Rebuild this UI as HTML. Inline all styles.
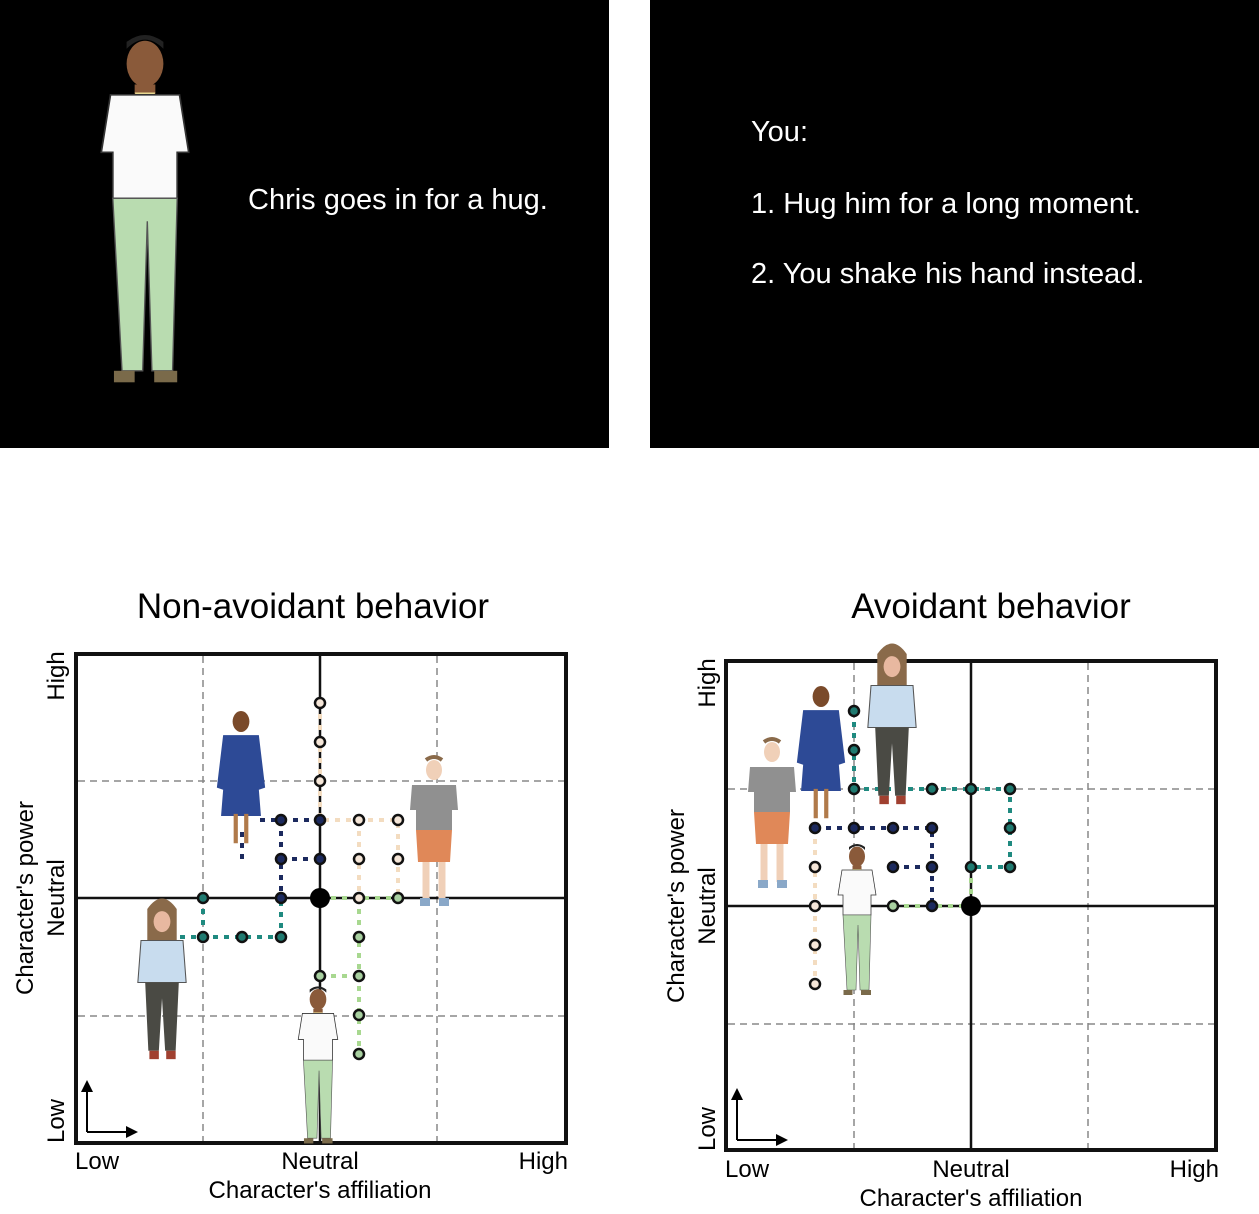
<!DOCTYPE html>
<html><head><meta charset="utf-8"><style>
body{margin:0;width:1259px;height:1209px;background:#fff;overflow:hidden;font-family:"Liberation Sans",sans-serif}
</style></head><body>
<svg width="1259" height="1209" viewBox="0 0 1259 1209" xmlns="http://www.w3.org/2000/svg" font-family="Liberation Sans, sans-serif">
<defs>
<g id="man">
 <ellipse cx="0" cy="-155" rx="16" ry="20" fill="#8a5a3a"/>
 <path d="M-16,-168 q16,-16 32,0 v-6 q-16,-12 -32,0z" fill="#222"/>
 <rect x="-9" y="-137" width="18" height="10" fill="#8a5a3a"/>
 <path d="M-9,-130 h18 l-4,8 h-10z" fill="#e8d890"/>
 <path d="M-30,-128 h60 l8,50 h-10 v40 h-56 v-40 h-10z" fill="#fafafa" stroke="#333" stroke-width="1.5"/>
 <path d="M-28,-38 h56 l-4,150 h-18 l-4,-130 l-4,130 h-18z" fill="#b9dcb0" stroke="#555" stroke-width="1.2"/>
 <rect x="-27" y="112" width="18" height="10" fill="#7a6a4a"/><rect x="8" y="112" width="20" height="10" fill="#7a6a4a"/>
</g>
<g id="woman1">
 <ellipse cx="0" cy="-70" rx="8" ry="10" fill="#7a4a2a"/>
 <path d="M-17,-57 h34 l6,50 l-6,2 l2,25 h-38 l2,-25 l-6,-2z" fill="#2d4a96"/>
 <path d="M-5,18 v28 M5,18 v28" stroke="#b07a4a" stroke-width="4"/>
</g>
<g id="woman2">
 <path d="M-14,-80 q14,-20 28,0 v30 h-28z" fill="#8a6a4a"/>
 <ellipse cx="0" cy="-68" rx="8" ry="10" fill="#e8b8a0"/>
 <path d="M-20,-50 h40 l3,40 h-46z" fill="#c8dcee" stroke="#555" stroke-width="1"/>
 <path d="M-16,-10 h32 l-3,65 h-10 l-3,-50 l-3,50 h-10z" fill="#4a4a44"/>
 <rect x="-12" y="55" width="9" height="8" fill="#a04030"/><rect x="4" y="55" width="9" height="8" fill="#a04030"/>
</g>
<g id="boy">
 <ellipse cx="0" cy="-70" rx="8" ry="10" fill="#f0d0b8"/>
 <path d="M-8,-80 q8,-6 16,0" stroke="#8a6a4a" stroke-width="4" fill="none"/>
 <path d="M-22,-55 h44 l2,25 h-6 v20 h-36 v-20 h-6z" fill="#909090"/>
 <path d="M-18,-10 h36 l-2,32 h-32z" fill="#e08858"/>
 <path d="M-8,22 v38 M8,22 v38" stroke="#f0d0b8" stroke-width="7"/>
 <rect x="-14" y="58" width="10" height="8" fill="#8aa8c8"/><rect x="5" y="58" width="10" height="8" fill="#8aa8c8"/>
</g>
</defs>

<rect x="0" y="0" width="609" height="448" fill="#000"/>
<rect x="650" y="0" width="609" height="448" fill="#000"/>
<use href="#man" transform="translate(145,242) scale(1.15)"/>
<text x="248" y="209" fill="#fff" font-size="29">Chris goes in for a hug.</text>
<text x="751" y="141" fill="#fff" font-size="29">You:</text>
<text x="751" y="213" fill="#fff" font-size="29">1. Hug him for a long moment.</text>
<text x="751" y="283" fill="#fff" font-size="29">2. You shake his hand instead.</text>

<text x="313" y="618" font-size="35" text-anchor="middle">Non-avoidant behavior</text>
<text x="991" y="618" font-size="35" text-anchor="middle">Avoidant behavior</text>

<!-- LEFT PLOT -->
<g>
<rect x="76" y="654" width="490" height="489" fill="#fff" stroke="#111" stroke-width="4"/>
<g stroke="#888" stroke-width="1.5" stroke-dasharray="7,5" fill="none">
<line x1="203" y1="656" x2="203" y2="1141"/><line x1="437" y1="656" x2="437" y2="1141"/>
<line x1="78" y1="781" x2="564" y2="781"/><line x1="78" y1="1016" x2="564" y2="1016"/>
</g>
<line x1="320" y1="656" x2="320" y2="1141" stroke="#111" stroke-width="2.5"/>
<line x1="78" y1="898" x2="564" y2="898" stroke="#111" stroke-width="2.5"/>
<g fill="none" stroke-width="4" stroke-dasharray="5,6">
<path d="M320,703 V820 H398 V898 M359,820 V898" stroke="#f3dcc0"/>
<path d="M260,820 H320 M281,820 V898 M281,859 H320 M242,859 V830" stroke="#1c2a5e"/>
<path d="M180,937 H281 V898 M203,898 V937" stroke="#1f8a80"/>
<path d="M320,898 H398 M359,898 V1054 M320,976 H359" stroke="#a8d890"/>
</g>
<g stroke="#111" stroke-width="2.5">
<g fill="#f5e6d8"><circle cx="320" cy="703" r="5"/><circle cx="320" cy="742" r="5"/><circle cx="320" cy="781" r="5"/><circle cx="359" cy="820" r="5"/><circle cx="398" cy="820" r="5"/><circle cx="359" cy="859" r="5"/><circle cx="398" cy="859" r="5"/><circle cx="359" cy="898" r="5"/></g>
<g fill="#1c2a5e"><circle cx="281" cy="820" r="5"/><circle cx="320" cy="820" r="5"/><circle cx="281" cy="859" r="5"/><circle cx="320" cy="859" r="5"/><circle cx="281" cy="898" r="5"/></g>
<g fill="#1f7a70"><circle cx="203" cy="898" r="5"/><circle cx="203" cy="937" r="5"/><circle cx="242" cy="937" r="5"/><circle cx="281" cy="937" r="5"/></g>
<g fill="#a8d0a0"><circle cx="398" cy="898" r="5"/><circle cx="359" cy="937" r="5"/><circle cx="359" cy="976" r="5"/><circle cx="320" cy="976" r="5"/><circle cx="359" cy="1015" r="5"/><circle cx="359" cy="1054" r="5"/></g>
</g>
<circle cx="320" cy="898" r="10" fill="#000"/>
<use href="#woman1" transform="translate(241,795) scale(1.05)"/>
<use href="#boy" transform="translate(434,840) scale(1.0)"/>
<use href="#woman2" transform="translate(162,993) scale(1.05)"/>
<use href="#man" transform="translate(318,1080) scale(0.52)"/>
<path d="M87,1132 V1088 M87,1132 H130" stroke="#000" stroke-width="2" fill="none"/>
<path d="M81,1092 L87,1080 L93,1092Z M126,1126 L138,1132 L126,1138Z" fill="#000"/>
<g font-size="24"><text x="75" y="1169">Low</text><text x="320" y="1169" text-anchor="middle">Neutral</text><text x="568" y="1169" text-anchor="end">High</text>
<text x="320" y="1198" text-anchor="middle">Character's affiliation</text>
<text transform="translate(64,676) rotate(-90)" text-anchor="middle">High</text>
<text transform="translate(64,898) rotate(-90)" text-anchor="middle">Neutral</text>
<text transform="translate(64,1121) rotate(-90)" text-anchor="middle">Low</text>
<text transform="translate(33,898) rotate(-90)" text-anchor="middle">Character's power</text></g>
</g>

<!-- RIGHT PLOT -->
<g>
<rect x="726" y="661" width="490" height="489" fill="#fff" stroke="#111" stroke-width="4"/>
<g stroke="#888" stroke-width="1.5" stroke-dasharray="7,5" fill="none">
<line x1="854" y1="663" x2="854" y2="1148"/><line x1="1088" y1="663" x2="1088" y2="1148"/>
<line x1="728" y1="789" x2="1214" y2="789"/><line x1="728" y1="1024" x2="1214" y2="1024"/>
</g>
<line x1="971" y1="663" x2="971" y2="1148" stroke="#111" stroke-width="2.5"/>
<line x1="728" y1="906" x2="1214" y2="906" stroke="#111" stroke-width="2.5"/>
<g fill="none" stroke-width="4" stroke-dasharray="5,6">
<path d="M815,828 V984" stroke="#f3dcc0"/>
<path d="M815,828 H932 V906 M893,867 H932" stroke="#1c2a5e"/>
<path d="M854,711 V789 H1010 V867 H971" stroke="#1f8a80"/>
<path d="M893,906 H971 M971,867 V906" stroke="#a8d890"/>
</g>
<g stroke="#111" stroke-width="2.5">
<g fill="#f5e6d8"><circle cx="815" cy="867" r="5"/><circle cx="815" cy="906" r="5"/><circle cx="815" cy="945" r="5"/><circle cx="815" cy="984" r="5"/></g>
<g fill="#1c2a5e"><circle cx="815" cy="828" r="5"/><circle cx="854" cy="828" r="5"/><circle cx="893" cy="828" r="5"/><circle cx="932" cy="828" r="5"/><circle cx="893" cy="867" r="5"/><circle cx="932" cy="867" r="5"/><circle cx="932" cy="906" r="5"/></g>
<g fill="#1f7a70"><circle cx="854" cy="711" r="5"/><circle cx="854" cy="750" r="5"/><circle cx="854" cy="789" r="5"/><circle cx="932" cy="789" r="5"/><circle cx="971" cy="789" r="5"/><circle cx="1010" cy="789" r="5"/><circle cx="1010" cy="828" r="5"/><circle cx="1010" cy="867" r="5"/><circle cx="971" cy="867" r="5"/></g>
<g fill="#a8d0a0"><circle cx="893" cy="906" r="5"/></g>
</g>
<circle cx="971" cy="906" r="10" fill="#000"/>
<use href="#boy" transform="translate(772,822) scale(1.0)"/>
<use href="#woman1" transform="translate(821,770) scale(1.05)"/>
<use href="#woman2" transform="translate(892,738) scale(1.05)"/>
<use href="#man" transform="translate(857,934) scale(0.5)"/>
<path d="M737,1140 V1096 M737,1140 H780" stroke="#000" stroke-width="2" fill="none"/>
<path d="M731,1100 L737,1088 L743,1100Z M776,1134 L788,1140 L776,1146Z" fill="#000"/>
<g font-size="24"><text x="725" y="1177">Low</text><text x="971" y="1177" text-anchor="middle">Neutral</text><text x="1219" y="1177" text-anchor="end">High</text>
<text x="971" y="1206" text-anchor="middle">Character's affiliation</text>
<text transform="translate(715,683) rotate(-90)" text-anchor="middle">High</text>
<text transform="translate(715,906) rotate(-90)" text-anchor="middle">Neutral</text>
<text transform="translate(715,1129) rotate(-90)" text-anchor="middle">Low</text>
<text transform="translate(684,906) rotate(-90)" text-anchor="middle">Character's power</text></g>
</g>
</svg>
</body></html>
